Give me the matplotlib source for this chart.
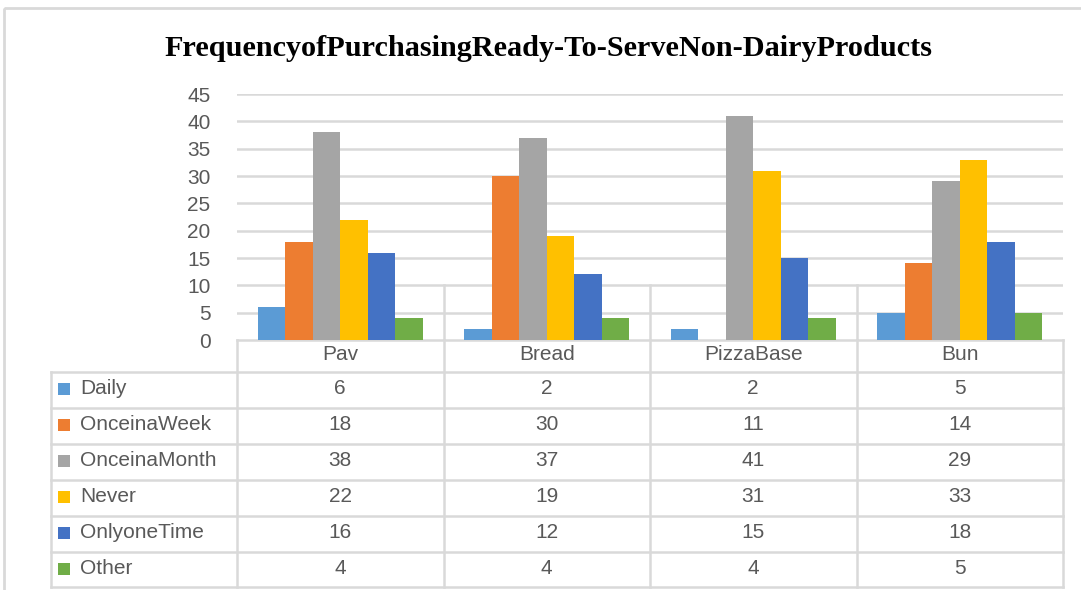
import numpy as np
import matplotlib
matplotlib.use("Agg")
import matplotlib.pyplot as plt
from matplotlib.patches import Rectangle

categories = ["Pav", "Bread", "PizzaBase", "Bun"]
series = ["Daily", "OnceinaWeek", "OnceinaMonth", "Never", "OnlyoneTime", "Other"]
daily = [6, 2, 2, 5]
once_week = [18, 30, 11, 14]
once_month = [38, 37, 41, 29]
never = [22, 19, 31, 33]
only_one = [16, 12, 15, 18]
other = [4, 4, 4, 5]
values = [daily, once_week, once_month, never, only_one, other]
# the source chart does not draw this bar (value only shows in the table)
hidden_bars = [("OnceinaWeek", "PizzaBase")]
yticks = [0, 5, 10, 15, 20, 25, 30, 35, 40, 45]

colors = ["#5B9BD5", "#ED7D31", "#A5A5A5", "#FFC000", "#4472C4", "#70AD47"]
grid_c = "#D9D9D9"
text_c = "#595959"

plt.rcParams['font.family'] = ['Liberation Sans', 'DejaVu Sans']

W, H = 1081, 590
fig = plt.figure(figsize=(W / 100, H / 100), dpi=100)

# pixel geometry of the plot area
x0, x1 = 237, 1063
y_zero, y_top = 340, 94

# overlay axes in pixel coords for frame, table and title
ov = fig.add_axes([0, 0, 1, 1])
ov.set_xlim(0, W)
ov.set_ylim(H, 0)
ov.axis("off")
ov.add_patch(Rectangle((4, 8), W + 10, H + 10, fill=False, edgecolor=grid_c, lw=2))

ax = fig.add_axes([x0 / W, (H - y_zero) / H, (x1 - x0) / W, (y_zero - y_top) / H])
ax.set_xlim(-0.5, len(categories) - 0.5)
ax.set_ylim(0, 45)
ax.patch.set_alpha(0)
for s in ax.spines.values():
    s.set_visible(False)
ax.set_xticks([])
ax.set_yticks(yticks)
ax.set_yticklabels([str(t) for t in yticks], color=text_c, fontsize=15)
ax.tick_params(axis="y", length=0, pad=19)
for t in yticks[1:]:
    ax.axhline(t, color=grid_c, lw=1.8, zorder=0)

# separators that poke up from the table into the chart
for i in range(1, len(categories)):
    ax.plot([i - 0.5, i - 0.5], [0, 10], color=grid_c, lw=1.8, zorder=0)

n = len(series)
bw = 0.8 / n
x = np.arange(len(categories))
for j, (name, vals) in enumerate(zip(series, values)):
    heights = [np.nan if (name, c) in hidden_bars else v for c, v in zip(categories, vals)]
    ax.bar(x + (j - (n - 1) / 2) * bw, heights, width=bw, color=colors[j], zorder=2)

# title
ov.text(548, 48, "FrequencyofPurchasingReady-To-ServeNon-DairyProducts",
        ha="center", va="center", fontsize=21.8, fontweight="bold",
        family=["Liberation Serif", "DejaVu Serif"], color="black")

# data table
tl = 51
row_y = [372, 408, 444, 480, 516, 552, 587]
col_w = (x1 - x0) / len(categories)
col_x = [x0 + i * col_w for i in range(len(categories) + 1)]
lw_t = 1.8
ov.plot([x0, x1], [y_zero, y_zero], color=grid_c, lw=lw_t)
for cx in col_x:
    ov.plot([cx, cx], [y_zero, row_y[-1]], color=grid_c, lw=lw_t)
ov.plot([tl, tl], [row_y[0], row_y[-1]], color=grid_c, lw=lw_t)
for ry in row_y:
    ov.plot([tl, x1], [ry, ry], color=grid_c, lw=lw_t)

for i, c in enumerate(categories):
    ov.text(col_x[i] + col_w / 2, (y_zero + row_y[0]) / 2 - 1, c,
            ha="center", va="center", fontsize=15, color=text_c)

for j, name in enumerate(series):
    yc = (row_y[j] + row_y[j + 1]) / 2
    ov.add_patch(Rectangle((58, yc - 7), 12, 12, color=colors[j], lw=0))
    ov.text(80, yc - 1, name, ha="left", va="center", fontsize=15, color=text_c)
    for i, v in enumerate(values[j]):
        ov.text(col_x[i] + col_w / 2, yc - 1, str(v), ha="center", va="center",
                fontsize=15, color=text_c)

fig.savefig("out.png", dpi=100)
